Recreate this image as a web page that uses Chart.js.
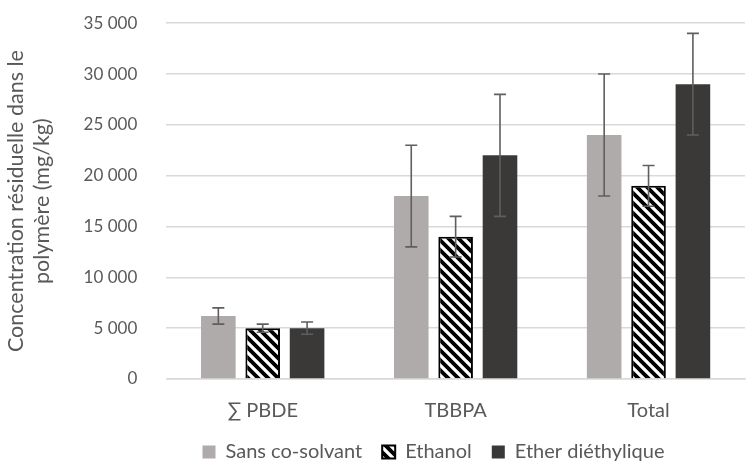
<!DOCTYPE html>
<html lang="fr">
<head>
<meta charset="UTF-8">
<title>Concentration résiduelle</title>
<script src="https://cdn.jsdelivr.net/npm/chart.js"></script>
<style>
    * { margin: 0; padding: 0; box-sizing: border-box; }
    body { background: #fff; }
    .box { width: 755px; height: 466px; position: relative; }
</style>
</head>
<body>
<div class="box"><canvas id="c"></canvas></div>
<script>
    // données
    const categories = ['\u2211 PBDE', 'TBBPA', 'Total'];
    const seriesNames = ['Sans co-solvant', 'Ethanol', 'Ether diéthylique'];
    const sansCoSolvant = [6200, 18000, 24000];
    const ethanol = [5000, 14000, 19000];
    const ether = [5000, 22000, 29000];
    // barres d'erreur (+/-)
    const errSans = [800, 5000, 6000];
    const errEthanol = [400, 2000, 2000];
    const errEther = [600, 6000, 5000];
    const yTicks = [0, 5000, 10000, 15000, 20000, 25000, 30000, 35000];

    // motif hachuré pour Ethanol
    function hatch() {
        const p = document.createElement('canvas');
        p.width = 10; p.height = 10;
        const g = p.getContext('2d');
        g.fillStyle = '#fff';
        g.fillRect(0, 0, 10, 10);
        g.strokeStyle = '#000';
        g.lineWidth = 3.8;
        g.beginPath();
        for (let k = -1; k <= 1; k++) {
            g.moveTo(-5 + k * 10, -5);
            g.lineTo(15 + k * 10, 15);
        }
        g.stroke();
        return g.createPattern(p, 'repeat');
    }

    const errorBars = {
        id: 'errorBars',
        afterDatasetsDraw(chart) {
            const ctx = chart.ctx;
            const y = chart.scales.y;
            ctx.save();
            ctx.strokeStyle = '#5f5f5f';
            ctx.lineWidth = 1.6;
            chart.data.datasets.forEach((ds, i) => {
                const meta = chart.getDatasetMeta(i);
                meta.data.forEach((bar, j) => {
                    const v = ds.data[j], e = ds.err[j];
                    const yHi = y.getPixelForValue(v + e);
                    const yLo = y.getPixelForValue(v - e);
                    const x = bar.x;
                    ctx.beginPath();
                    ctx.moveTo(x, yHi); ctx.lineTo(x, yLo);
                    ctx.moveTo(x - 6, yHi); ctx.lineTo(x + 6, yHi);
                    ctx.moveTo(x - 6, yLo); ctx.lineTo(x + 6, yLo);
                    ctx.stroke();
                });
            });
            ctx.restore();
        }
    };

    // la légende est centrée sous la zone de tracé, pas sous tout le canvas
    const legendShift = {
        id: 'legendShift',
        afterLayout(chart) {
            chart.legend.left += 61;
            chart.legend.right += 61;
        }
    };

    Chart.defaults.font.family = "Lato, 'DejaVu Sans', sans-serif";
    Chart.defaults.color = '#595959';

    new Chart(document.getElementById('c'), {
        type: 'bar',
        data: {
            labels: categories,
            datasets: [
                { label: seriesNames[0], data: sansCoSolvant, err: errSans, backgroundColor: '#afabab', borderWidth: 0 },
                { label: seriesNames[1], data: ethanol, err: errEthanol, backgroundColor: hatch(), borderColor: '#000', borderWidth: 2 },
                { label: seriesNames[2], data: ether, err: errEther, backgroundColor: '#3b3838', borderWidth: 0 }
            ]
        },
        options: {
            responsive: true,
            maintainAspectRatio: false,
            animation: false,
            categoryPercentage: 0.69,
            barPercentage: 0.78,
            layout: { padding: { top: 0, right: 10, left: 0, bottom: -6 } },
            scales: {
                x: {
                    grid: { display: false, drawTicks: false },
                    border: { display: true, color: '#d9d9d9', width: 1.5 },
                    ticks: { font: { size: 20 }, color: '#595959', padding: 20 },
                    afterFit: s => { s.height = 43; }
                },
                y: {
                    min: 0, max: 35000,
                    afterBuildTicks: s => { s.ticks = yTicks.map(v => ({ value: v })); },
                    grid: { color: '#d9d9d9', lineWidth: 1.5, drawTicks: true, tickLength: 16, tickColor: 'rgba(0,0,0,0)' },
                    border: { display: false },
                    ticks: {
                        font: { size: 17 }, color: '#595959', padding: 13,
                        callback: v => v.toString().replace(/\B(?=(\d{3})+(?!\d))/g, ' ')
                    },
                    title: {
                        display: true,
                        text: ['Concentration résiduelle dans le', 'polymère (mg/kg)'],
                        font: { size: 21.5 }, color: '#595959', padding: { top: 3, bottom: 16 }
                    }
                }
            },
            plugins: {
                legend: {
                    position: 'bottom',
                    labels: { font: { size: 20 }, color: '#595959', boxWidth: 13, boxHeight: 13, padding: 20 }
                },
                tooltip: { enabled: false }
            }
        },
        plugins: [errorBars, legendShift]
    });
</script>
</body>
</html>
